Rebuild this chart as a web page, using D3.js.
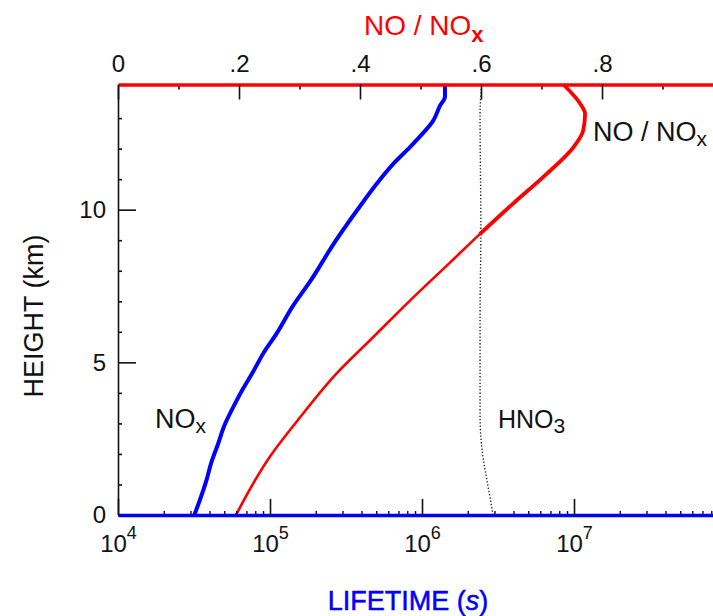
<!DOCTYPE html>
<html>
<head>
<meta charset="utf-8">
<script src="https://cdn.jsdelivr.net/npm/d3@7"></script>
<style>
  html, body { margin: 0; padding: 0; background: #fff; }
  svg { display: block; }
  text { font-family: "Liberation Sans", Arial, Helvetica, sans-serif; }
</style>
</head>
<body>
<svg id="chart" width="713" height="616"></svg>
<script>
// ---------------- data ----------------
const heightsNOx = [0, 1.1, 1.7, 2.35, 2.9, 3.54, 4.15, 4.7, 5.3, 5.95, 6.81, 7.69, 8.89, 9.98, 10.85, 11.5, 12.05, 12.4, 12.9, 13.4, 13.7, 14.1];
const lifetimeNOx = [31800, 38000, 41000, 45700, 49800, 57400, 66700, 77600, 90400, 110700, 140000, 186000, 263000, 374000, 503500, 647100, 833700, 970500, 1180000, 1312000, 1416000, 1416000];

const heightsRatio = [0, 1.91, 3.2, 4.63, 5.83, 7.03, 8.29, 9.2, 10.2, 11.18, 12.05, 12.6, 13.14, 13.47, 14.1];
const ratioNO = [0.195, 0.251, 0.301, 0.361, 0.422, 0.483, 0.550, 0.598, 0.653, 0.709, 0.753, 0.769, 0.772, 0.764, 0.736];

const heightsHNO3 = [0, 0.5, 1.15, 2.24, 3.3, 6.6, 9.3, 13.15, 14.1];
const lifetimeHNO3 = [2.93e6, 2.82e6, 2.67e6, 2.47e6, 2.41e6, 2.41e6, 2.44e6, 2.41e6, 2.47e6];

const ratioTicks = [0, 0.2, 0.4, 0.6, 0.8];
const ratioTickLabels = ["0", ".2", ".4", ".6", ".8"];
const ratioMinorTicks = [0.1, 0.3, 0.5, 0.7, 0.9];
const lifetimeTicks = [1e4, 1e5, 1e6, 1e7];
const lifetimeExponents = ["4", "5", "6", "7"];
const heightTicks = [0, 5, 10];
const heightMinorTicks = [1, 2, 3, 4, 6, 7, 8, 9, 11, 12, 13];

// ---------------- scales ----------------
const svg = d3.select("#chart");
const x = d3.scaleLog().domain([1e4, 1e8]).range([118, 726]);
const xTop = d3.scaleLinear().domain([0, 1]).range([118, 723]);
const y = d3.scaleLinear().domain([0, 14.1]).range([515, 84.5]);

const lifetimeMinor = [];
for (let e = 4; e < 8; e++) for (let m = 2; m <= 9; m++) lifetimeMinor.push(m * Math.pow(10, e));

// ---------------- curves ----------------
const lineLife = d3.line().x(d => x(d[0])).y(d => y(d[1])).curve(d3.curveMonotoneY);
const lineRatio = d3.line().x(d => xTop(d[0])).y(d => y(d[1])).curve(d3.curveMonotoneY);

svg.append("path")
  .datum(lifetimeHNO3.map((v, i) => [v, heightsHNO3[i]]))
  .attr("d", lineLife)
  .attr("fill", "none").attr("stroke", "#222").attr("stroke-width", 1.4)
  .attr("stroke-dasharray", "1.3,2");

const ratioPts = ratioNO.map((v, i) => [v, heightsRatio[i]]);
svg.append("path")
  .datum(ratioPts)
  .attr("d", lineRatio)
  .attr("fill", "none").attr("stroke", "#ff0000").attr("stroke-width", 2.6)
  .attr("stroke-linejoin", "round");
// thicker upper part of the ratio curve
svg.append("path")
  .datum(ratioPts.filter(p => p[1] >= 9.2))
  .attr("d", lineRatio)
  .attr("fill", "none").attr("stroke", "#ff0000").attr("stroke-width", 3.8)
  .attr("stroke-linejoin", "round");

svg.append("path")
  .datum(lifetimeNOx.map((v, i) => [v, heightsNOx[i]]))
  .attr("d", lineLife)
  .attr("fill", "none").attr("stroke", "#0000ff").attr("stroke-width", 4)
  .attr("stroke-linejoin", "round");

// ---------------- axes ----------------
// left axis
const gLeft = svg.append("g").attr("transform", `translate(${x(1e4)},0)`);
gLeft.call(d3.axisLeft(y).tickValues(heightTicks).tickSizeInner(-18).tickSizeOuter(0).tickPadding(12).tickFormat(d3.format("d")));
gLeft.select(".domain").attr("stroke", "#111").attr("stroke-width", 1.6);
gLeft.selectAll(".tick line").attr("stroke", "#111").attr("stroke-width", 1.6);
gLeft.selectAll(".tick text").attr("font-size", 24).attr("fill", "#111")
  .attr("dy", "0.33em").attr("font-family", "Liberation Sans, Arial, sans-serif");
const gLeftMinor = svg.append("g").attr("transform", `translate(${x(1e4)},0)`);
gLeftMinor.call(d3.axisLeft(y).tickValues(heightMinorTicks).tickSizeInner(-4).tickSizeOuter(0).tickFormat(""));
gLeftMinor.select(".domain").remove();
gLeftMinor.selectAll(".tick line").attr("stroke", "#111").attr("stroke-width", 1.6);

// bottom axis
const gBottomMinor = svg.append("g").attr("transform", `translate(0,${y(0)})`);
gBottomMinor.call(d3.axisBottom(x).tickValues(lifetimeMinor).tickSizeInner(-4).tickSizeOuter(0).tickFormat(""));
gBottomMinor.select(".domain").remove();
gBottomMinor.selectAll(".tick line").attr("stroke", "#111").attr("stroke-width", 1.4);

const gBottom = svg.append("g").attr("transform", `translate(0,${y(0)})`);
gBottom.call(d3.axisBottom(x).tickValues(lifetimeTicks).tickSizeInner(-16).tickSizeOuter(0).tickPadding(22).tickFormat(""));
gBottom.select(".domain").attr("stroke", "#0000ff").attr("stroke-width", 3.5);
gBottom.selectAll(".tick line").attr("stroke", "#111").attr("stroke-width", 1.6);
gBottom.selectAll(".tick text").each(function(d, i) {
  const t = d3.select(this).attr("font-size", 24).attr("fill", "#111").attr("dy", null).attr("y", 37);
  t.append("tspan").text("10");
  t.append("tspan").text(lifetimeExponents[i]).attr("font-size", 18).attr("dy", -13);
});

// top axis
const gTopMinor = svg.append("g").attr("transform", `translate(0,${y(14.1)})`);
gTopMinor.call(d3.axisTop(xTop).tickValues(ratioMinorTicks).tickSizeInner(-5).tickSizeOuter(0).tickFormat(""));
gTopMinor.select(".domain").remove();
gTopMinor.selectAll(".tick line").attr("stroke", "#111").attr("stroke-width", 1.6);

const gTop = svg.append("g").attr("transform", `translate(0,${y(14.1)})`);
gTop.call(d3.axisTop(xTop).tickValues(ratioTicks).tickSizeInner(-15).tickSizeOuter(0).tickPadding(13)
  .tickFormat((d, i) => ratioTickLabels[i]));
gTop.select(".domain").attr("stroke", "#ff0000").attr("stroke-width", 3.5);
gTop.selectAll(".tick line").attr("stroke", "#111").attr("stroke-width", 1.6);
gTop.selectAll(".tick text").attr("font-size", 24).attr("fill", "#111").attr("dy", 0);

// ---------------- titles & labels ----------------
const topTitle = svg.append("text").attr("x", 364).attr("y", 35).attr("font-size", 28).attr("fill", "#ff0000");
topTitle.append("tspan").text("NO / NO");
topTitle.append("tspan").text("x").attr("font-size", 22).attr("font-weight", "bold").attr("dy", 7);

svg.append("text")
  .attr("transform", "translate(43,316) rotate(-90)")
  .attr("text-anchor", "middle").attr("font-size", 27).attr("fill", "#111")
  .text("HEIGHT (km)");

const bottomTitle = svg.append("text").attr("x", 408).attr("y", 610).attr("text-anchor", "middle")
  .attr("font-size", 27).attr("fill", "#0000ff").attr("stroke", "#0000ff").attr("stroke-width", 0.5);
bottomTitle.append("tspan").text("LIFETIME (");
bottomTitle.append("tspan").text("s").attr("font-style", "italic");
bottomTitle.append("tspan").text(")");

const lblNOx = svg.append("text").attr("x", 155).attr("y", 428).attr("font-size", 27).attr("fill", "#111");
lblNOx.append("tspan").text("NO");
lblNOx.append("tspan").text("x").attr("font-size", 21).attr("dy", 5);

const lblHNO3 = svg.append("text").attr("x", 498).attr("y", 428).attr("font-size", 25).attr("fill", "#111");
lblHNO3.append("tspan").text("HNO");
lblHNO3.append("tspan").text("3").attr("font-size", 21).attr("dy", 5);

const lblRatio = svg.append("text").attr("x", 593).attr("y", 141).attr("font-size", 27).attr("fill", "#111");
lblRatio.append("tspan").text("NO / NO");
lblRatio.append("tspan").text("x").attr("font-size", 21).attr("dy", 5);
</script>
</body>
</html>
